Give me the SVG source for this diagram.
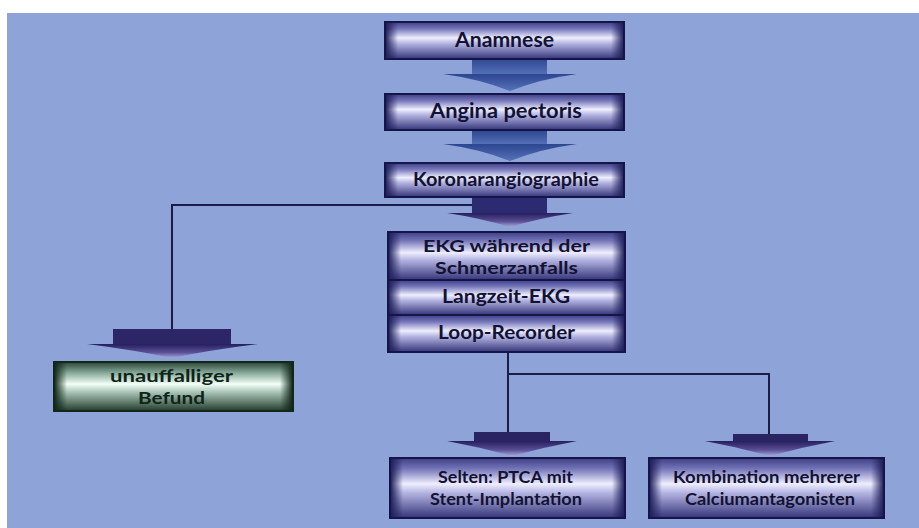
<svg xmlns="http://www.w3.org/2000/svg" width="919" height="528" viewBox="0 0 919 528">
  <defs>
    <!-- bevelled bar fill: dark edges, bright highlight line -->
    <linearGradient id="bevelBlue" x1="0" y1="0" x2="0" y2="1">
      <stop offset="0" stop-color="#3e3e86"/>
      <stop offset="0.18" stop-color="#7474b8"/>
      <stop offset="0.43" stop-color="#eeeeff"/>
      <stop offset="0.58" stop-color="#b4b4e2"/>
      <stop offset="1" stop-color="#34347a"/>
    </linearGradient>
    <linearGradient id="bevelGreen" x1="0" y1="0" x2="0" y2="1">
      <stop offset="0" stop-color="#2a4638"/>
      <stop offset="0.22" stop-color="#86a898"/>
      <stop offset="0.45" stop-color="#f2fff6"/>
      <stop offset="0.65" stop-color="#9cb8aa"/>
      <stop offset="1" stop-color="#233c2c"/>
    </linearGradient>
    <linearGradient id="capL" x1="0" y1="0" x2="1" y2="0">
      <stop offset="0" stop-color="#1e1e5a" stop-opacity="0.95"/>
      <stop offset="1" stop-color="#1e1e5a" stop-opacity="0"/>
    </linearGradient>
    <linearGradient id="capR" x1="1" y1="0" x2="0" y2="0">
      <stop offset="0" stop-color="#1e1e5a" stop-opacity="0.95"/>
      <stop offset="1" stop-color="#1e1e5a" stop-opacity="0"/>
    </linearGradient>
    <linearGradient id="capLg" x1="0" y1="0" x2="1" y2="0">
      <stop offset="0" stop-color="#10281a" stop-opacity="0.95"/>
      <stop offset="1" stop-color="#10281a" stop-opacity="0"/>
    </linearGradient>
    <linearGradient id="capRg" x1="1" y1="0" x2="0" y2="0">
      <stop offset="0" stop-color="#10281a" stop-opacity="0.95"/>
      <stop offset="1" stop-color="#10281a" stop-opacity="0"/>
    </linearGradient>
    <!-- block arrow fills -->
    <linearGradient id="arrowBlue" x1="0" y1="0" x2="0" y2="1">
      <stop offset="0" stop-color="#2c4690"/>
      <stop offset="1" stop-color="#5672b8"/>
    </linearGradient>
    <linearGradient id="arrowPurple" x1="0" y1="0" x2="0" y2="1">
      <stop offset="0" stop-color="#251f5e"/>
      <stop offset="0.6" stop-color="#5a4f96"/>
      <stop offset="1" stop-color="#a8a8da"/>
    </linearGradient>
  </defs>
  <style>
    .box { fill: url(#bevelBlue); stroke: #15154a; stroke-width: 2; }
    .boxg { fill: url(#bevelGreen); stroke: #12261a; stroke-width: 2; }
    .capl { fill: url(#capL); }
    .capr { fill: url(#capR); }
    .caplg { fill: url(#capLg); }
    .caprg { fill: url(#capRg); }
    .lbl { font-family: Lato, "Open Sans", "Liberation Sans", sans-serif; font-weight: 700; fill: #121232; text-anchor: middle; }
    .lblg { fill: #0e2418; }
    .wire { fill: none; stroke: #1c1c48; stroke-width: 2; }
    .ab { fill: url(#arrowBlue); }
    .ap { fill: url(#arrowPurple); }
  </style>

  <!-- page margin and blue panel -->
  <rect x="0" y="0" width="919" height="528" fill="#ffffff"/>
  <rect x="7" y="13" width="912" height="515" fill="#8ea3d7"/>

  <g id="connectors">
    <path class="wire" d="M172,329 V205 H473"/>
    <path class="wire" d="M508,352 V433"/>
    <path class="wire" d="M508,374 H769 V435"/>
    <!-- block arrows -->
    <rect class="ab" x="472" y="58" width="75" height="17"/>
    <path class="ab" d="M443,74 H577 Q540,79 510,91 Q480,79 443,74 Z"/>
    <rect class="ab" x="472" y="130" width="75" height="15"/>
    <path class="ab" d="M443,144 H577 Q540,149 510,161 Q480,149 443,144 Z"/>
    <rect x="472" y="197" width="75" height="17" fill="#2c2a70"/>
    <path class="ap" d="M447,213 H573 Q540,218 510,227 Q480,218 447,213 Z"/>
    <rect x="113" y="329" width="118" height="16" fill="#2c2666"/>
    <path class="ap" d="M87,344 H258 Q210,350 172,358 Q134,350 87,344 Z"/>
    <rect x="474" y="432" width="76" height="10" fill="#2a2462"/>
    <path class="ap" d="M447,441 H577 Q545,447 512,456 Q479,447 447,441 Z"/>
    <rect x="733" y="434" width="75" height="8" fill="#2a2462"/>
    <path class="ap" d="M705,441 H835 Q803,447 770,456 Q737,447 705,441 Z"/>
  </g>

  <g id="anamnese">
    <rect class="box" x="385" y="22" width="239" height="37"/>
    <rect class="capl" x="386" y="23" width="12" height="35"/>
    <rect class="capr" x="611" y="23" width="12" height="35"/>
    <text class="lbl" x="504.5" y="47" font-size="20" textLength="99" lengthAdjust="spacingAndGlyphs">Anamnese</text>
  </g>

  <g id="angina-pectoris">
    <rect class="box" x="385" y="94" width="239" height="36"/>
    <rect class="capl" x="386" y="95" width="12" height="34"/>
    <rect class="capr" x="611" y="95" width="12" height="34"/>
    <text class="lbl" x="506" y="118" font-size="20" font-weight="900" textLength="152" lengthAdjust="spacingAndGlyphs">Angina pectoris</text>
  </g>

  <g id="koronarangiographie">
    <rect class="box" x="385" y="163" width="239" height="34"/>
    <rect class="capl" x="386" y="164" width="12" height="32"/>
    <rect class="capr" x="611" y="164" width="12" height="32"/>
    <text class="lbl" x="506" y="186" font-size="19" textLength="186" lengthAdjust="spacingAndGlyphs">Koronarangiographie</text>
  </g>

  <g id="ekg-diagnostik">
    <rect class="box" x="388" y="232" width="237" height="48"/>
    <rect class="capl" x="389" y="233" width="12" height="46"/>
    <rect class="capr" x="612" y="233" width="12" height="46"/>
    <text class="lbl" x="506.5" y="252" font-size="17.5" textLength="167" lengthAdjust="spacingAndGlyphs">EKG während der</text>
    <text class="lbl" x="506.5" y="274" font-size="17.5" textLength="143" lengthAdjust="spacingAndGlyphs">Schmerzanfalls</text>
    <rect class="box" x="388" y="280" width="237" height="35"/>
    <rect class="capl" x="389" y="281" width="12" height="33"/>
    <rect class="capr" x="612" y="281" width="12" height="33"/>
    <text class="lbl" x="506" y="303" font-size="19" textLength="128" lengthAdjust="spacingAndGlyphs">Langzeit-EKG</text>
    <rect class="box" x="388" y="315" width="237" height="37"/>
    <rect class="capl" x="389" y="316" width="12" height="35"/>
    <rect class="capr" x="612" y="316" width="12" height="35"/>
    <text class="lbl" x="506.5" y="339" font-size="19" textLength="137" lengthAdjust="spacingAndGlyphs">Loop-Recorder</text>
  </g>

  <g id="unauffalliger-befund">
    <rect class="boxg" x="54" y="362" width="239" height="49"/>
    <rect class="caplg" x="55" y="363" width="12" height="47"/>
    <rect class="caprg" x="280" y="363" width="12" height="47"/>
    <text class="lbl lblg" x="171.5" y="382" font-size="17.5" textLength="123" lengthAdjust="spacingAndGlyphs">unauffalliger</text>
    <text class="lbl lblg" x="171.5" y="404" font-size="17.5" textLength="67" lengthAdjust="spacingAndGlyphs">Befund</text>
  </g>

  <g id="ptca-stent">
    <rect class="box" x="390" y="458" width="235" height="60"/>
    <rect class="capl" x="391" y="459" width="12" height="58"/>
    <rect class="capr" x="612" y="459" width="12" height="58"/>
    <text class="lbl" x="505.5" y="483" font-size="17.5" textLength="135" lengthAdjust="spacingAndGlyphs">Selten: PTCA mit</text>
    <text class="lbl" x="506" y="505" font-size="17.5" textLength="152" lengthAdjust="spacingAndGlyphs">Stent-Implantation</text>
  </g>

  <g id="calciumantagonisten">
    <rect class="box" x="649" y="458" width="235" height="60"/>
    <rect class="capl" x="650" y="459" width="12" height="58"/>
    <rect class="capr" x="871" y="459" width="12" height="58"/>
    <text class="lbl" x="766.5" y="483" font-size="17.5" textLength="187" lengthAdjust="spacingAndGlyphs">Kombination mehrerer</text>
    <text class="lbl" x="770" y="505" font-size="17.5" textLength="170" lengthAdjust="spacingAndGlyphs">Calciumantagonisten</text>
  </g>
</svg>
